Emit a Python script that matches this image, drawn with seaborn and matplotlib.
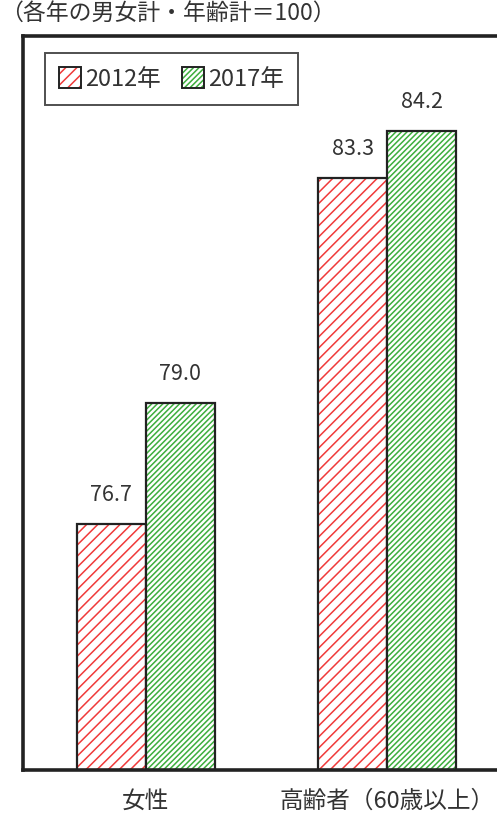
import matplotlib
matplotlib.use("Agg")
import matplotlib.pyplot as plt
import seaborn as sns
import pandas as pd

# Index values (each year's total for both sexes and all ages = 100)
categories = ["女性", "高齢者（60歳以上）"]
years = ["2012年", "2017年"]
values_2012 = [76.7, 83.3]
values_2017 = [79.0, 84.2]

df = pd.DataFrame({
    "group": categories * 2,
    "year": [years[0]] * 2 + [years[1]] * 2,
    "value": values_2012 + values_2017,
})

sns.set_style("white")
plt.rcParams["font.family"] = ["Noto Sans CJK JP", "DejaVu Sans"]
plt.rcParams["hatch.linewidth"] = 1.1

fig = plt.figure(figsize=(4.97, 8.17), dpi=100)
ax = fig.add_axes([0.0463, 0.0575, 1.0, 0.898])

sns.barplot(data=df, x="group", y="value", hue="year", order=categories,
            hue_order=years, width=0.57, ax=ax, saturation=1,
            palette=["white", "white"], edgecolor="#222222", linewidth=1.6,
            legend=True)

hatch_styles = [("///", "#f03a3a"), ("//////", "#3dae3d")]


def apply_hatch(patch, hatch, col):
    patch.set_edgecolor("#222222")
    patch.set_hatch(hatch)
    patch._hatch_color = matplotlib.colors.to_rgba(col)


for cont, (hatch, col) in zip(ax.containers, hatch_styles):
    for bar in cont:
        apply_hatch(bar, hatch, col)

# value labels above each bar
for cont, vals in zip(ax.containers, [values_2012, values_2017]):
    ax.bar_label(cont, labels=[f"{v:.1f}" for v in vals], padding=13,
                 fontsize=15.5, color="#333333")

ax.set_ylim(72, 86)
ax.set_xlim(-0.508, 1.55)
ax.set_yticks([])
ax.set_xlabel("")
ax.set_ylabel("")
ax.tick_params(axis="x", length=0, pad=14, labelsize=17, labelcolor="#333333")

for side in ["left", "bottom", "top"]:
    ax.spines[side].set_linewidth(2.6)
    ax.spines[side].set_color("#222222")
ax.spines["right"].set_visible(False)

handles, labels = ax.get_legend_handles_labels()
for h, (hatch, col) in zip(handles, hatch_styles):
    apply_hatch(h, hatch, col)
leg = ax.legend(handles, labels, loc="upper left", bbox_to_anchor=(0.044, 0.977),
                borderaxespad=0, ncol=2, fontsize=17, frameon=True, fancybox=False,
                handlelength=0.95, handleheight=0.95, handletextpad=0.15,
                columnspacing=0.9, borderpad=0.6, labelcolor="#333333")
leg.get_frame().set_edgecolor("#222222")
leg.get_frame().set_linewidth(1.4)
for h in leg.legend_handles:
    h.set_linewidth(1.4)

fig.text(0.0, 0.998, "（各年の男女計・年齢計＝100）", ha="left", va="top",
         fontsize=16.5, color="#333333")

fig.savefig("out.png", dpi=100)
